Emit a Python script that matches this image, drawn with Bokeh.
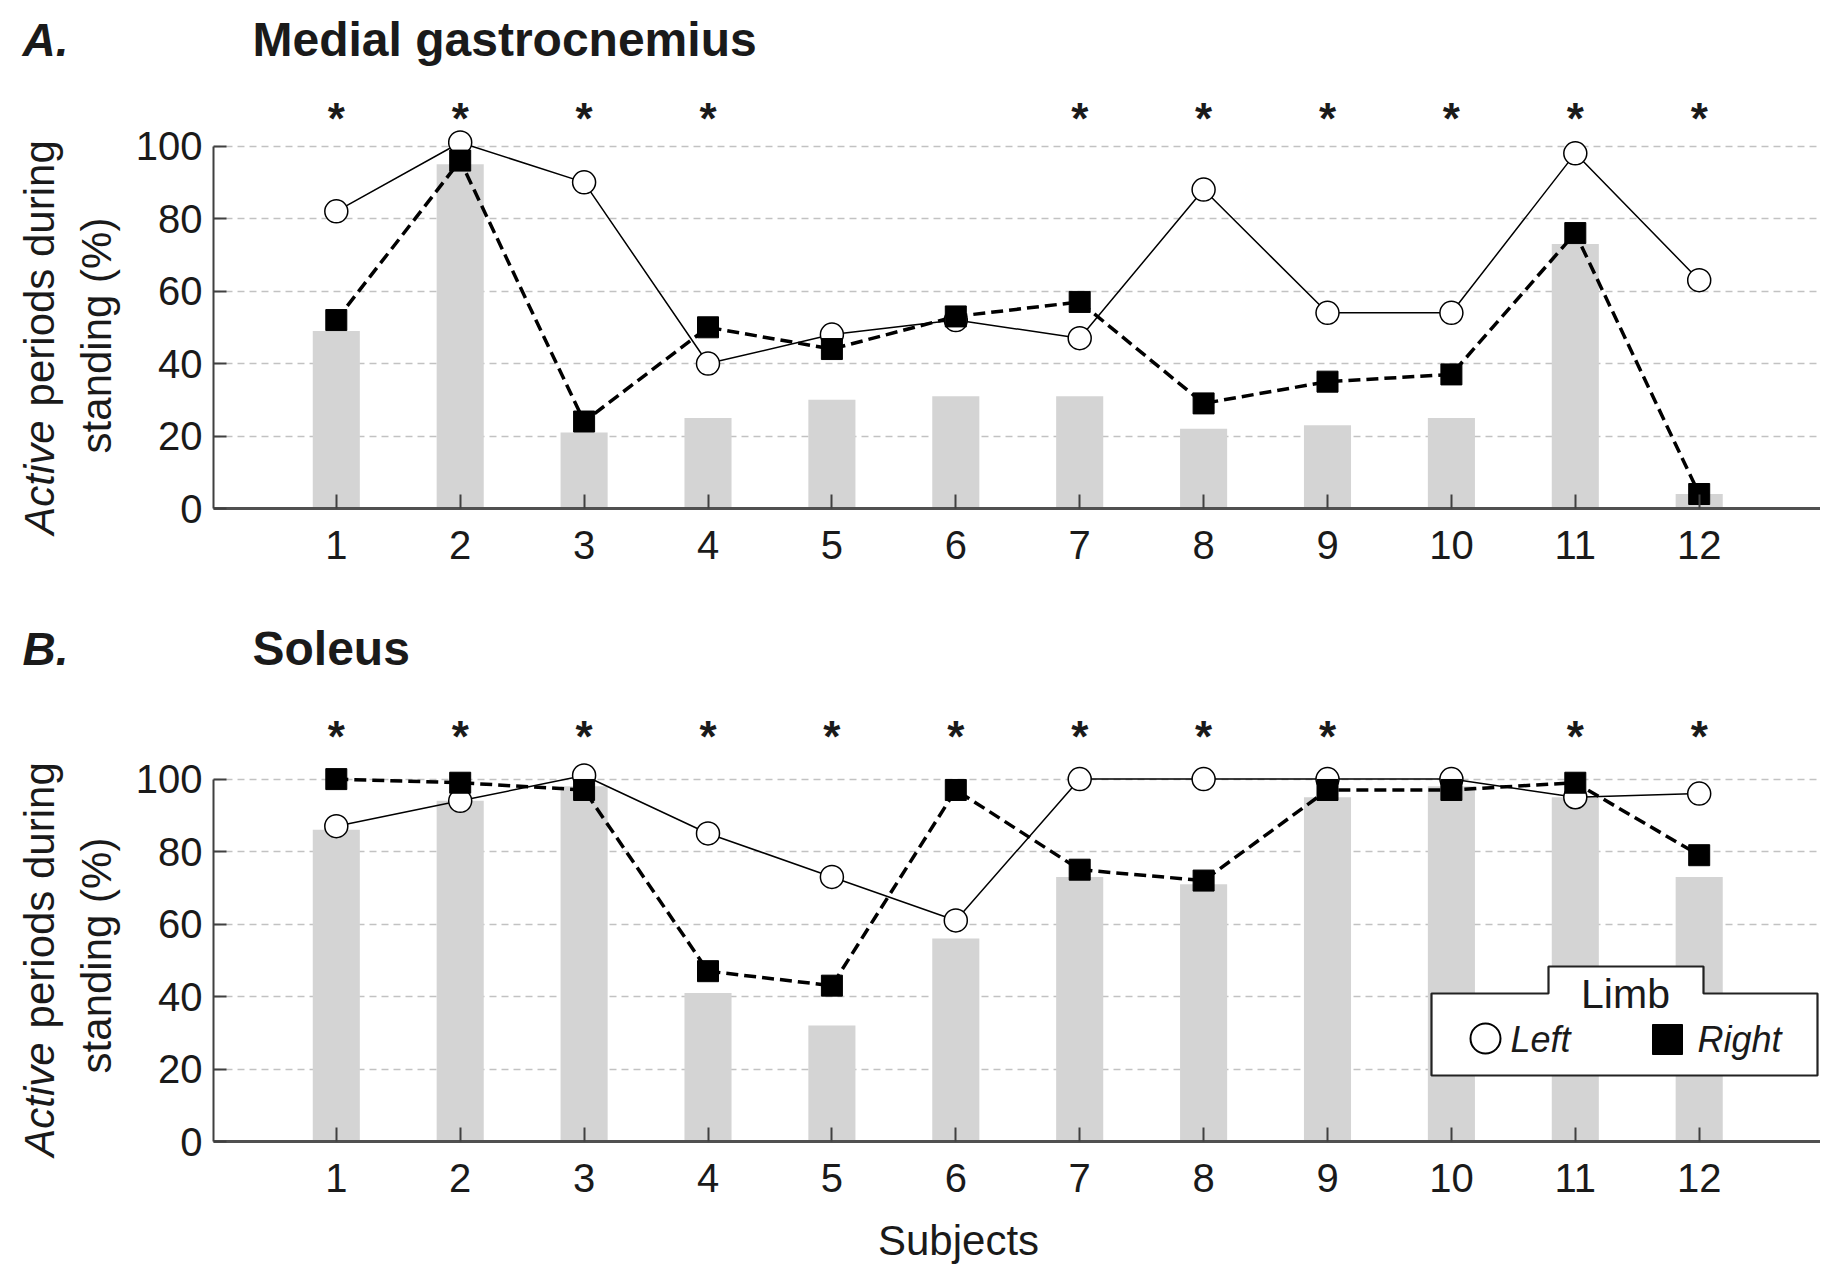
import math
from bokeh.plotting import figure
from bokeh.models import FixedTicker, Range1d
from bokeh.layouts import column, row
from bokeh.embed import file_html
from bokeh.resources import INLINE
from bokeh.core.properties import value

# ---------------- data ----------------
subjects = list(range(1, 13))
y_ticks = [0, 20, 40, 60, 80, 100]
grid_ticks = [20, 40, 60, 80, 100]

# A. Medial gastrocnemius
mg_left = [82, 101, 90, 40, 48, 52, 47, 88, 54, 54, 98, 63]
mg_right = [52, 96, 24, 50, 44, 53, 57, 29, 35, 37, 76, 4]
mg_bar = [49, 95, 21, 25, 30, 31, 31, 22, 23, 25, 73, 4]
mg_sig = [1, 2, 3, 4, 7, 8, 9, 10, 11, 12]

# B. Soleus
sol_left = [87, 94, 101, 85, 73, 61, 100, 100, 100, 100, 95, 96]
sol_right = [100, 99, 97, 47, 43, 97, 75, 72, 97, 97, 99, 79]
sol_bar = [86, 94, 98, 41, 32, 56, 73, 71, 95, 98, 95, 73]
sol_sig = [1, 2, 3, 4, 5, 6, 7, 8, 9, 11, 12]

# ---------------- layout constants (page px) ----------------
FONT = "Liberation Sans"
TXT = "#1a1a1a"
PAGE_H = 1264
LEFT_W = 123            # strip holding the panel letters and y labels
FRAME_LEFT = 213
FRAME_RIGHT = 1820
SUBJ1_PX = 335.8
PX_X = 123.9
X0 = 1 - (SUBJ1_PX - FRAME_LEFT) / PX_X
X1 = 1 + (FRAME_RIGHT - SUBJ1_PX) / PX_X
PX_Y = 453 / 125.0
MAIN_W = FRAME_RIGHT - LEFT_W
NB = "\u00a0"
YLAB_1A = "Active" + NB * 24          # italic part, padded to full line width
YLAB_1B = NB * 11 + "periods during"  # upright part, padded the same way
YLAB_2 = "standing (%)"


def px_x(px):
    return X0 + (px - FRAME_LEFT) / PX_X


def style_blank(f):
    f.axis.visible = False
    f.grid.visible = False
    f.outline_line_color = None
    f.background_fill_color = "white"
    f.border_fill_color = "white"
    return f


# ---- left strip (whole page height): y data = PAGE_H - page px ----
strip = style_blank(figure(width=LEFT_W, height=PAGE_H,
                           x_range=Range1d(0, LEFT_W), y_range=Range1d(0, PAGE_H),
                           output_backend="svg", toolbar_location=None,
                           min_border=0))


def sy(py):
    return PAGE_H - py


def strip_texts(letter, title_center, ylab1_center, ylab2_center):
    strip.text(x=[22], y=[sy(title_center)], text=[letter], text_font=value(FONT),
               text_font_size="46px", text_font_style="bold italic",
               text_color=TXT, text_align="left", text_baseline="middle")
    fs = "42px"
    strip.text(x=[39], y=[sy(ylab1_center)], text=[YLAB_1A], angle=math.pi / 2,
               text_font=value(FONT), text_font_size=fs, text_font_style="italic",
               text_color=TXT, text_align="center", text_baseline="middle")
    strip.text(x=[39], y=[sy(ylab1_center)], text=[YLAB_1B], angle=math.pi / 2,
               text_font=value(FONT), text_font_size=fs, text_color=TXT,
               text_align="center", text_baseline="middle")
    strip.text(x=[96], y=[sy(ylab2_center)], text=[YLAB_2], angle=math.pi / 2,
               text_font=value(FONT), text_font_size=fs, text_color=TXT,
               text_align="center", text_baseline="middle")


def make_panel(name, left, right, bars, sig, page_top, page_bottom,
               frame_bottom, title_center, star_center, with_legend=False):
    def px_y(py):
        return (frame_bottom - py) / PX_Y

    height = page_bottom - page_top
    p = figure(width=MAIN_W, height=height, x_range=Range1d(X0, X1),
               y_range=Range1d(0, (frame_bottom - page_top) / PX_Y),
               output_backend="svg", toolbar_location=None,
               min_border_left=FRAME_LEFT - LEFT_W, min_border_right=0,
               min_border_top=0, min_border_bottom=page_bottom - frame_bottom)
    p.outline_line_color = None
    p.background_fill_color = "white"
    p.border_fill_color = "white"

    p.xgrid.visible = False
    p.ygrid.ticker = FixedTicker(ticks=grid_ticks)
    p.ygrid.grid_line_color = "#c2c2c2"
    p.ygrid.grid_line_dash = "7 5"
    p.ygrid.grid_line_width = 1.5

    xa = p.xaxis[0]
    xa.ticker = FixedTicker(ticks=subjects)
    xa.axis_line_color = "#505050"
    xa.axis_line_width = 3
    xa.major_tick_in = 14
    xa.major_tick_out = 0
    xa.major_tick_line_color = "#404040"
    xa.major_tick_line_width = 2
    xa.minor_tick_line_color = None
    xa.major_label_text_font = FONT
    xa.major_label_text_font_size = "40px"
    xa.major_label_text_color = TXT
    xa.major_label_standoff = 22

    ya = p.yaxis[0]
    ya.ticker = FixedTicker(ticks=y_ticks)
    ya.bounds = (0, 100)
    ya.axis_line_color = "#404040"
    ya.axis_line_width = 2
    ya.major_tick_in = 13
    ya.major_tick_out = 0
    ya.major_tick_line_color = "#404040"
    ya.major_tick_line_width = 2
    ya.minor_tick_line_color = None
    ya.major_label_text_font = FONT
    ya.major_label_text_font_size = "40px"
    ya.major_label_text_color = TXT
    ya.major_label_standoff = 11

    p.vbar(x=subjects, top=bars, bottom=0, width=0.38, fill_color="#d4d4d4",
           line_color=None)
    p.line(subjects, left, line_color="black", line_width=1.5)
    p.line(subjects, right, line_color="black", line_width=3.5, line_dash="12 6")
    p.scatter(subjects, left, marker="circle", size=23, fill_color="white",
              line_color="black", line_width=1.5)
    p.scatter(subjects, right, marker="square", size=21, fill_color="black",
              line_color="black")

    star_y = px_y(star_center + 6)
    p.text(x=sig, y=[star_y] * len(sig), text=["*"] * len(sig),
           text_font=value(FONT), text_font_size="44px", text_font_style="bold",
           text_align="center", text_baseline="middle", text_color=TXT)

    p.text(x=[px_x(252)], y=[px_y(title_center)], text=[name],
           text_font=value(FONT), text_font_size="48px", text_font_style="bold",
           text_color=TXT, text_align="left", text_baseline="middle")

    if with_legend:
        bl, br, bt, bb = 1431, 1817, 993, 1075
        tl, tr, tt = 1548, 1703, 966
        xs = [px_x(v) for v in (bl, bl, tl, tl, tr, tr, br, br)]
        ys = [px_y(v) for v in (bb, bt, bt, tt, tt, bt, bt, bb)]
        p.patch(xs, ys, fill_color="white", line_color="#222222", line_width=2.2)
        p.text(x=[px_x(1625)], y=[px_y(993)], text=["Limb"],
               text_font=value(FONT), text_font_size="41px", text_color=TXT,
               text_align="center", text_baseline="middle")
        p.scatter([px_x(1485)], [px_y(1038)], marker="circle", size=30,
                  fill_color="white", line_color="black", line_width=2)
        p.scatter([px_x(1667)], [px_y(1039)], marker="square", size=30,
                  fill_color="black", line_color="black")
        p.text(x=[px_x(1510), px_x(1697)], y=[px_y(1039), px_y(1039)],
               text=["Left", "Right"], text_font=value(FONT),
               text_font_size="36px", text_font_style="italic", text_color=TXT,
               text_align="left", text_baseline="middle")
    return p


strip_texts("A.", title_center=39, ylab1_center=337, ylab2_center=335)
strip_texts("B.", title_center=648, ylab1_center=959, ylab2_center=955)

pA = make_panel("Medial gastrocnemius", mg_left, mg_right, mg_bar, mg_sig,
                page_top=0, page_bottom=620, frame_bottom=508, title_center=39,
                star_center=112)
pB = make_panel("Soleus", sol_left, sol_right, sol_bar, sol_sig,
                page_top=620, page_bottom=1213, frame_bottom=1141,
                title_center=648, star_center=730, with_legend=True)

# bottom strip for the x-axis title; its frame spans page x FRAME_LEFT..FRAME_RIGHT
bottom = style_blank(figure(width=MAIN_W, height=PAGE_H - 1213,
                            x_range=Range1d(FRAME_LEFT, FRAME_RIGHT),
                            y_range=Range1d(0, PAGE_H - 1213),
                            output_backend="svg", toolbar_location=None,
                            min_border_left=FRAME_LEFT - LEFT_W,
                            min_border_right=0, min_border_top=0,
                            min_border_bottom=0))
bottom.text(x=[958], y=[PAGE_H - 1240], text=["Subjects"], text_font=value(FONT),
            text_font_size="42px", text_color=TXT, text_align="center",
            text_baseline="middle")

layout = row(strip, column(pA, pB, bottom, spacing=0), spacing=0)
open("out.html", "w").write(file_html(layout, INLINE))
